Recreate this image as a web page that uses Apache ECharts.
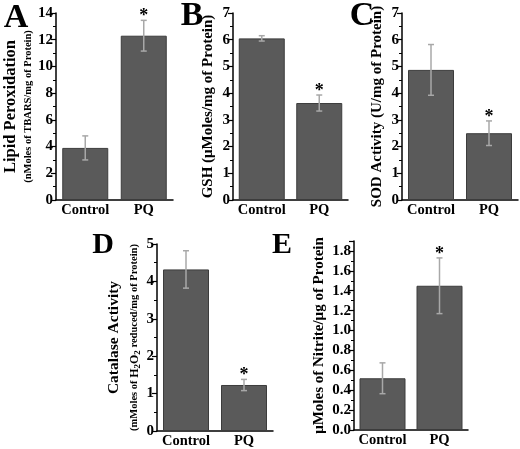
<!DOCTYPE html>
<html><head><meta charset="utf-8">
<script src="https://cdn.jsdelivr.net/npm/echarts@6/dist/echarts.min.js"></script>
<style>html,body{margin:0;padding:0;background:#fff}#c{width:520px;height:449px}</style>
</head><body><div id="c"></div>
<script>
// ---- data ----
const categories = ['Control', 'PQ'];
const lipidMeans = [3.9, 12.3];
const lipidErrors = [0.9, 1.15];
const gshMeans = [6.05, 3.63];
const gshErrors = [0.1, 0.3];
const sodMeans = [4.87, 2.5];
const sodErrors = [0.95, 0.46];
const catalaseMeans = [4.32, 1.23];
const catalaseErrors = [0.5, 0.15];
const nitriteMeans = [0.52, 1.45];
const nitriteErrors = [0.155, 0.28];
const significant = [false, true];
const panelLetters = ['A', 'B', 'C', 'D', 'E'];
const yMaxes = [14, 7, 7, 5, 1.9];
const yIntervals = [2, 1, 1, 1, 0.2];

const FONT = '"Liberation Serif","Times New Roman",serif';
const panels = [
  {means: lipidMeans, errs: lipidErrors, grid: {left: 56, top: 13, width: 117, height: 187},
   name: '{big|Lipid Peroxidation}\n{s|(nMoles of TBARS/mg of Protein)}', gap: 14},
  {means: gshMeans, errs: gshErrors, grid: {left: 233, top: 13, width: 115, height: 187},
   name: '{m|GSH (μMoles/mg of Protein)}', gap: 16},
  {means: sodMeans, errs: sodErrors, grid: {left: 402, top: 13, width: 116, height: 187},
   name: '{m|SOD Activity (U/mg of Protein)}', gap: 16},
  {means: catalaseMeans, errs: catalaseErrors, grid: {left: 157, top: 244, width: 116, height: 187},
   name: '{d|Catalase Activity}\n{s|(mMoles of }{h|H}{sub|2}{h|O}{sub|2}{s| reduced/mg of Protein)}', gap: 14},
  {means: nitriteMeans, errs: nitriteErrors, grid: {left: 354, top: 241, width: 114, height: 189},
   name: '{m|μMoles of Nitrite/μg of Protein}', gap: 26}
];
const letterPos = [[16, 18, 34], [192, 16, 34], [362, 16, 34], [103, 245, 30], [282, 245, 30]];

const grids = [], xAxes = [], yAxes = [], series = [];
panels.forEach((p, k) => {
  grids.push(p.grid);
  xAxes.push({
    type: 'category', gridIndex: k, data: categories,
    axisLine: {lineStyle: {color: '#000', width: 1.5}},
    axisTick: {show: false},
    axisLabel: {interval: 0, color: '#000', fontFamily: FONT, fontWeight: 'bold', fontSize: 14.5, margin: 3}
  });
  yAxes.push({
    type: 'value', gridIndex: k, min: 0, max: yMaxes[k], interval: yIntervals[k],
    name: p.name, nameLocation: 'middle', nameRotate: 90, nameGap: p.gap,
    nameTextStyle: {
      fontFamily: FONT, fontWeight: 'bold', color: '#000',
      rich: {
        big: {fontFamily: FONT, fontWeight: 'bold', fontSize: 16.5, color: '#000', lineHeight: 19},
        m: {fontFamily: FONT, fontWeight: 'bold', fontSize: 15, color: '#000', lineHeight: 18},
        d: {fontFamily: FONT, fontWeight: 'bold', fontSize: 15.5, color: '#000', lineHeight: 26},
        s: {fontFamily: FONT, fontWeight: 'bold', fontSize: 10.5, color: '#000', lineHeight: 16},
        h: {fontFamily: FONT, fontWeight: 'bold', fontSize: 12, color: '#000', lineHeight: 16},
        sub: {fontFamily: FONT, fontWeight: 'bold', fontSize: 9, color: '#000', lineHeight: 16, verticalAlign: 'bottom'}
      }
    },
    axisLine: {show: true, lineStyle: {color: '#000', width: 1.5}},
    axisTick: {show: true, length: 5, lineStyle: {color: '#000', width: 1.2}},
    minorTick: {show: true, splitNumber: 2, length: 3, lineStyle: {color: '#000', width: 1}},
    splitLine: {show: false},
    axisLabel: {
      color: '#000', fontFamily: FONT, fontWeight: 'bold', fontSize: 15, margin: 3,
      formatter: v => {
        const r = v / yIntervals[k];
        if (Math.abs(r - Math.round(r)) > 1e-6) return '';
        return yIntervals[k] < 1 ? v.toFixed(1) : String(v);
      }
    }
  });
  series.push({
    type: 'bar', xAxisIndex: k, yAxisIndex: k, data: p.means, barWidth: 46,
    itemStyle: {color: '#5a5a5a', borderColor: '#3c3c3c', borderWidth: 1}
  });
  series.push({
    type: 'custom', xAxisIndex: k, yAxisIndex: k, z: 5,
    data: categories.map((c, i) => [i, p.means[i] - p.errs[i], p.means[i] + p.errs[i], significant[i] ? 1 : 0]),
    renderItem: (params, api) => {
      const x = api.coord([api.value(0), 0])[0];
      const lo = api.coord([api.value(0), api.value(1)])[1];
      const hi = api.coord([api.value(0), api.value(2)])[1];
      const st = {stroke: '#a8a8a8', lineWidth: 1.5};
      const ch = [
        {type: 'line', shape: {x1: x, y1: lo, x2: x, y2: hi}, style: st},
        {type: 'line', shape: {x1: x - 3, y1: hi, x2: x + 3, y2: hi}, style: st},
        {type: 'line', shape: {x1: x - 3, y1: lo, x2: x + 3, y2: lo}, style: st}
      ];
      if (api.value(3)) {
        ch.push({type: 'text', style: {text: '*', x: x, y: hi - 4, textAlign: 'center', textVerticalAlign: 'middle',
          font: 'bold 18px ' + FONT, fill: '#000'}});
      }
      return {type: 'group', children: ch};
    }
  });
});

const graphics = panelLetters.map((L, i) => ({
  type: 'text', x: letterPos[i][0], y: letterPos[i][1],
  style: {text: L, textAlign: 'center', textVerticalAlign: 'middle',
    font: 'bold ' + letterPos[i][2] + 'px ' + FONT, fill: '#000'}
}));

const chart = echarts.init(document.getElementById('c'), null, {renderer: 'canvas'});
chart.setOption({
  animation: false, backgroundColor: '#fff',
  grid: grids, xAxis: xAxes, yAxis: yAxes, series: series, graphic: graphics
});
</script></body></html>
